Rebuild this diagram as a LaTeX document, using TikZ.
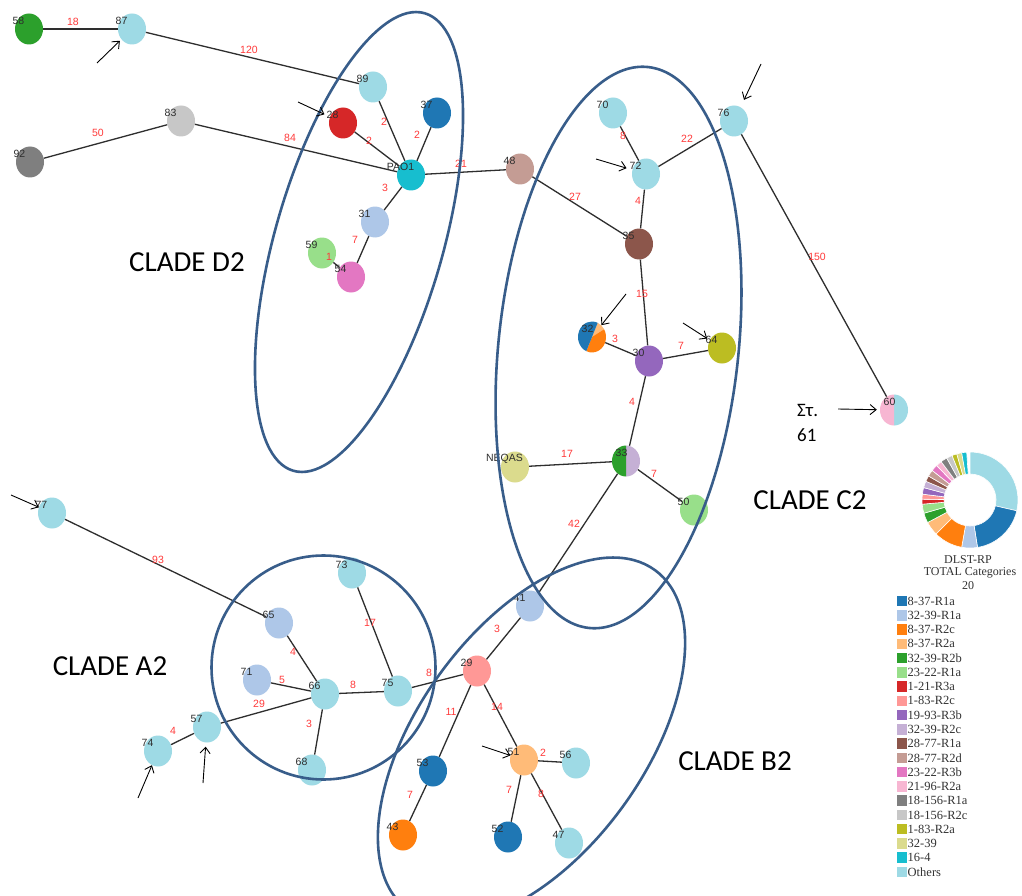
\documentclass[tikz,border=0pt]{standalone}
\usepackage{fontspec}
\setmainfont{Liberation Sans}
\newfontfamily\cladefont{Carlito}
\newfontfamily\legendfont{Liberation Serif}
\usetikzlibrary{shapes.geometric,arrows.meta}

% category palette
\definecolor{cBlue}{HTML}{1F77B4}
\definecolor{cBlueL}{HTML}{AEC7E8}
\definecolor{cOrange}{HTML}{FF7F0E}
\definecolor{cOrangeL}{HTML}{FFBB78}
\definecolor{cGreen}{HTML}{2CA02C}
\definecolor{cGreenL}{HTML}{98DF8A}
\definecolor{cRed}{HTML}{D62728}
\definecolor{cRedL}{HTML}{FF9896}
\definecolor{cPurple}{HTML}{9467BD}
\definecolor{cPurpleL}{HTML}{C5B0D5}
\definecolor{cBrown}{HTML}{8C564B}
\definecolor{cBrownL}{HTML}{C49C94}
\definecolor{cPink}{HTML}{E377C2}
\definecolor{cPinkL}{HTML}{F7B6D2}
\definecolor{cGray}{HTML}{7F7F7F}
\definecolor{cGrayL}{HTML}{C7C7C7}
\definecolor{cOlive}{HTML}{BCBD22}
\definecolor{cOliveL}{HTML}{DBDB8D}
\definecolor{cCyan}{HTML}{17BECF}
\definecolor{cCyanL}{HTML}{9EDAE5}
\definecolor{cladeblue}{HTML}{385D8A}
\definecolor{edgegray}{HTML}{2E2E2E}
\definecolor{weightred}{HTML}{FF3B3B}
\definecolor{legtext}{HTML}{333333}

% two-colour node split vertically (left, right)
\newcommand\halfpie[3]{%
  \begin{scope}[shift={(#1.center)}, x=1pt, y=1pt]
    \fill[#3] (0,15.5) arc[start angle=90, end angle=-90, x radius=14, y radius=15.5] -- cycle;
    \fill[#2] (0,-15.5) arc[start angle=-90, end angle=-270, x radius=14, y radius=15.5] -- cycle;
  \end{scope}}

\begin{document}
\begin{tikzpicture}[x=1pt, y=-1pt,
  nd/.style={ellipse, minimum width=28pt, minimum height=31pt, inner sep=0pt},
  lbl/.style={anchor=west, xshift=-10.5pt, yshift=8.5pt, inner sep=0pt,
              font=\fontsize{10.5}{10.5}\selectfont, text=edgegray},
  lnk/.style={draw=edgegray, line width=1.3pt},
  wt/.style={text=weightred, inner sep=0pt, font=\fontsize{10.5}{10.5}\selectfont},
  clade/.style={draw=cladeblue, line width=2.6pt},
  cladelbl/.style={inner sep=0pt, font=\cladefont\fontsize{29}{29}\selectfont},
  notelbl/.style={inner sep=0pt, anchor=west, font=\cladefont\fontsize{19}{19}\selectfont},
  ptr/.style={draw=black, line width=0.9pt, -{Straight Barb[length=6pt, width=10pt]}},
  legsq/.style={rectangle, minimum size=10.5pt, inner sep=0pt},
  legtx/.style={anchor=west, inner sep=0pt, text=legtext,
                font=\legendfont\fontsize{12.5}{12.5}\selectfont},
  legtitle/.style={inner sep=0pt, text=legtext, font=\legendfont\fontsize{12}{12}\selectfont},
]
\useasboundingbox (0,0) rectangle (1022,896);
\fill[white] (0,0) rectangle (1022,896);
\clip (0,0) rectangle (1022,896);

% ---------- nodes ----------
\node[nd, fill=cGreen,   label={[lbl]center:58}]   (n58)  at (29,29) {};
\node[nd, fill=cCyanL,   label={[lbl]center:87}]   (n87)  at (132,29) {};
\node[nd, fill=cCyanL,   label={[lbl]center:89}]   (n89)  at (373,87) {};
\node[nd, fill=cRed,     label={[lbl]center:28}]   (n28)  at (343,123) {};
\node[nd, fill=cBlue,    label={[lbl]center:37}]   (n37)  at (437,113) {};
\node[nd, fill=cCyan,    label={[lbl]center:PAO1}] (npao) at (411,175) {};
\node[nd, fill=cGrayL,   label={[lbl]center:83}]   (n83)  at (181,121) {};
\node[nd, fill=cGray,    label={[lbl]center:92}]   (n92)  at (30,162) {};
\node[nd, fill=cBlueL,   label={[lbl]center:31}]   (n31)  at (375,222) {};
\node[nd, fill=cGreenL,  label={[lbl]center:59}]   (n59)  at (322,253) {};
\node[nd, fill=cPink,    label={[lbl]center:54}]   (n54)  at (351,277) {};
\node[nd, fill=cBrownL,  label={[lbl]center:48}]   (n48)  at (520,169) {};
\node[nd, fill=cCyanL,   label={[lbl]center:70}]   (n70)  at (613,113) {};
\node[nd, fill=cCyanL,   label={[lbl]center:72}]   (n72)  at (646,174) {};
\node[nd, fill=cCyanL,   label={[lbl]center:76}]   (n76)  at (734,121) {};
\node[nd, fill=cBrown,   label={[lbl]center:35}]   (n35)  at (639,244) {};
\node[nd]                                          (n32)  at (592,337) {};
\node[nd, fill=cPurple,  label={[lbl]center:30}]   (n30)  at (649,361) {};
\node[nd, fill=cOlive,   label={[lbl]center:64}]   (n64)  at (722,348) {};
\node[nd]                                          (n60)  at (894,410) {};
\node[nd]                                          (n33)  at (626,461) {};
\node[nd, fill=cOliveL,  label={[lbl]center:NEQAS}] (nneq) at (515,467) {};
\node[nd, fill=cGreenL,  label={[lbl]center:50}]   (n50)  at (694,510) {};
\node[nd, fill=cCyanL,   label={[lbl]center:77}]   (n77)  at (52,513) {};
\node[nd, fill=cBlueL,   label={[lbl]center:41}]   (n41)  at (530,606) {};
\node[nd, fill=cCyanL,   label={[lbl]center:73}]   (n73)  at (352,573) {};
\node[nd, fill=cBlueL,   label={[lbl]center:65}]   (n65)  at (279,623) {};
\node[nd, fill=cBlueL,   label={[lbl]center:71}]   (n71)  at (257,680) {};
\node[nd, fill=cCyanL,   label={[lbl]center:66}]   (n66)  at (325,694) {};
\node[nd, fill=cCyanL,   label={[lbl]center:75}]   (n75)  at (398,691) {};
\node[nd, fill=cRedL,    label={[lbl]center:29}]   (n29)  at (477,671) {};
\node[nd, fill=cCyanL,   label={[lbl]center:57}]   (n57)  at (207,727) {};
\node[nd, fill=cCyanL,   label={[lbl]center:74}]   (n74)  at (158,751) {};
\node[nd, fill=cCyanL,   label={[lbl]center:68}]   (n68)  at (312,770) {};
\node[nd, fill=cBlue,    label={[lbl]center:53}]   (n53)  at (433,771) {};
\node[nd, fill=cOrangeL, label={[lbl]center:51}]   (n51)  at (524,760) {};
\node[nd, fill=cCyanL,   label={[lbl]center:56}]   (n56)  at (576,763) {};
\node[nd, fill=cOrange,  label={[lbl]center:43}]   (n43)  at (403,835) {};
\node[nd, fill=cBlue,    label={[lbl]center:52}]   (n52)  at (508,837) {};
\node[nd, fill=cCyanL,   label={[lbl]center:47}]   (n47)  at (569,843) {};

% multi-category nodes
\begin{scope}[shift={(n32.center)}, x=1pt, y=1pt]
  \fill[cOrangeL] (0,0) -- (66:14 and 15.5) arc[start angle=66, end angle=30, x radius=14, y radius=15.5] -- cycle;
  \fill[cOrange]  (0,0) -- (30:14 and 15.5) arc[start angle=30, end angle=-114, x radius=14, y radius=15.5] -- cycle;
  \fill[cBlue]    (0,0) -- (-114:14 and 15.5) arc[start angle=-114, end angle=-294, x radius=14, y radius=15.5] -- cycle;
\end{scope}
\halfpie{n33}{cGreen}{cPurpleL}
\halfpie{n60}{cPinkL}{cCyanL}
\node[lbl] (t32) at (n32.center) {32};
\node[lbl] (t33) at (n33.center) {33};
\node[lbl] (t60) at (n60.center) {60};

% ---------- links with distances ----------
\draw[lnk] (n58) -- (n87)   node[wt] at (73,22) {18};
\draw[lnk] (n87) -- (n89)   node[wt] at (249,50) {120};
\draw[lnk] (n92) -- (n83)   node[wt] at (98,133) {50};
\draw[lnk] (n83) -- (npao)  node[wt] at (290,138) {84};
\draw[lnk] (n89) -- (npao)  node[wt] at (384,122) {2};
\draw[lnk] (n28) -- (npao)  node[wt] at (369,141) {2};
\draw[lnk] (n37) -- (npao)  node[wt] at (417,135) {2};
\draw[lnk] (npao) -- (n31)  node[wt] at (385,188) {3};
\draw[lnk] (n31) -- (n54)   node[wt] at (355,240) {7};
\draw[lnk] (n59) -- (n54)   node[wt] at (329,257) {1};
\draw[lnk] (npao) -- (n48)  node[wt] at (461,164) {21};
\draw[lnk] (n48) -- (n35)   node[wt] at (575,197) {27};
\draw[lnk] (n70) -- (n72)   node[wt] at (623,136) {8};
\draw[lnk] (n72) -- (n76)   node[wt] at (687,139) {22};
\draw[lnk] (n72) -- (n35)   node[wt] at (638,201) {4};
\draw[lnk] (n76) -- (n60)   node[wt] at (817,257) {150};
\draw[lnk] (n35) -- (n30)   node[wt] at (642,294) {15};
\draw[lnk] (n32) -- (n30)   node[wt] at (615,339) {3};
\draw[lnk] (n30) -- (n64)   node[wt] at (681,346) {7};
\draw[lnk] (n30) -- (n33)   node[wt] at (632,402) {4};
\draw[lnk] (nneq) -- (n33)  node[wt] at (567,454) {17};
\draw[lnk] (n33) -- (n50)   node[wt] at (654,474) {7};
\draw[lnk] (n33) -- (n41)   node[wt] at (574,524) {42};
\draw[lnk] (n77) -- (n65)   node[wt] at (158,560) {93};
\draw[lnk] (n65) -- (n66)   node[wt] at (293,652) {4};
\draw[lnk] (n71) -- (n66)   node[wt] at (282,680) {5};
\draw[lnk] (n57) -- (n66)   node[wt] at (259,704) {29};
\draw[lnk] (n74) -- (n57)   node[wt] at (173,731) {4};
\draw[lnk] (n66) -- (n75)   node[wt] at (353,685) {8};
\draw[lnk] (n73) -- (n75)   node[wt] at (370,623) {17};
\draw[lnk] (n66) -- (n68)   node[wt] at (309,724) {3};
\draw[lnk] (n75) -- (n29)   node[wt] at (429,673) {8};
\draw[lnk] (n29) -- (n41)   node[wt] at (497,629) {3};
\draw[lnk] (n29) -- (n53)   node[wt] at (451,712) {11};
\draw[lnk] (n29) -- (n51)   node[wt] at (497,707) {14};
\draw[lnk] (n51) -- (n56)   node[wt] at (543,753) {2};
\draw[lnk] (n51) -- (n52)   node[wt] at (509,790) {7};
\draw[lnk] (n51) -- (n47)   node[wt] at (541,794) {8};
\draw[lnk] (n53) -- (n43)   node[wt] at (410,795) {7};

% ---------- clade outlines ----------
\draw[clade, rotate around={-16:(359,242)}] (359,242) ellipse [x radius=84pt, y radius=238pt];
\draw[clade, rotate around={-6:(618.5,347.5)}] (618.5,347.5) ellipse [x radius=120pt, y radius=282pt];
\draw[clade, rotate around={-36:(531.5,740)}] (531.5,740) ellipse [x radius=113pt, y radius=210pt];
\draw[clade] (323.5,667.5) circle [radius=112pt];

\node[cladelbl] (cD2) at (187,262) {CLADE D2};
\node[cladelbl] (cC2) at (810,500) {CLADE C2};
\node[cladelbl] (cA2) at (110,666) {CLADE A2};
\node[cladelbl] (cB2) at (735,761) {CLADE B2};

\node[notelbl] (st)  at (797,410) {Στ.};
\node[notelbl] (s61) at (797,435) {61};

% ---------- pointer arrows ----------
\coordinate (p87) at (97,63);
\coordinate (p28) at (298,102);
\coordinate (p76) at (761,64);
\coordinate (p72) at (596,159);
\coordinate (p32) at (626,294);
\coordinate (p64) at (683,323);
\coordinate (p60) at (838,409);
\coordinate (p77) at (11,495);
\coordinate (p57) at (203,783);
\coordinate (p74) at (138,798);
\coordinate (p51) at (482,746);
\draw[ptr, shorten >=2pt] (p87) -- (n87);
\draw[ptr, shorten >=6pt] (p28) -- (n28);
\draw[ptr, shorten >=8pt] (p76) -- (n76);
\draw[ptr, shorten >=6pt] (p72) -- (n72);
\draw[ptr] (p32) -- (n32);
\draw[ptr, shorten >=3pt] (p64) -- (n64);
\draw[ptr, shorten >=3pt] (p60) -- (n60);
\draw[ptr] (p77) -- (n77);
\draw[ptr, shorten >=4pt] (p57) -- (n57);
\draw[ptr] (p74) -- (n74);
\draw[ptr] (p51) -- (n51);

% ---------- category donut ----------
\begin{scope}[shift={(970,500)}, x=1pt, y=1pt]
  \foreach \a/\b/\c in {0/103/cCyanL, 103/171/cBlue, 171/190/cBlueL, 190/225/cOrange,
      225/242/cOrangeL, 242/254/cGreen, 254/265/cGreenL, 265/271/cRed, 271/277/cRedL,
      277/285/cPurple, 285/293/cPurpleL, 293/300/cBrown, 300/308/cBrownL, 308/316/cPink,
      316/323/cPinkL, 323/331/cGray, 331/338/cGrayL, 338/344/cOlive, 344/350/cOliveL,
      350/356/cCyan}
    \fill[\c, draw=white, line width=0.6pt]
      ({90-\a}:48) arc[start angle={90-\a}, end angle={90-\b}, radius=48]
      -- ({90-\b}:26) arc[start angle={90-\b}, end angle={90-\a}, radius=26] -- cycle;
\end{scope}

\node[legtitle] (ttl1) at (968,560) {DLST-RP};
\node[legtitle] (ttl2) at (970,573) {TOTAL Categories};
\node[legtitle] (ttl3) at (968,586) {20};

\foreach \c/\t [count=\i from 0] in {cBlue/8-37-R1a, cBlueL/32-39-R1a, cOrange/8-37-R2c,
    cOrangeL/8-37-R2a, cGreen/32-39-R2b, cGreenL/23-22-R1a, cRed/1-21-R3a, cRedL/1-83-R2c,
    cPurple/19-93-R3b, cPurpleL/32-39-R2c, cBrown/28-77-R1a, cBrownL/28-77-R2d,
    cPink/23-22-R3b, cPinkL/21-96-R2a, cGray/18-156-R1a, cGrayL/18-156-R2c,
    cOlive/1-83-R2a, cOliveL/32-39, cCyan/16-4, cCyanL/Others} {
  \node[legsq, fill=\c] (sq\i) at (902, {601+14.26*\i}) {};
  \node[legtx] (lt\i) at (907.5, {601+14.26*\i}) {\t};
}
\end{tikzpicture}
\end{document}
